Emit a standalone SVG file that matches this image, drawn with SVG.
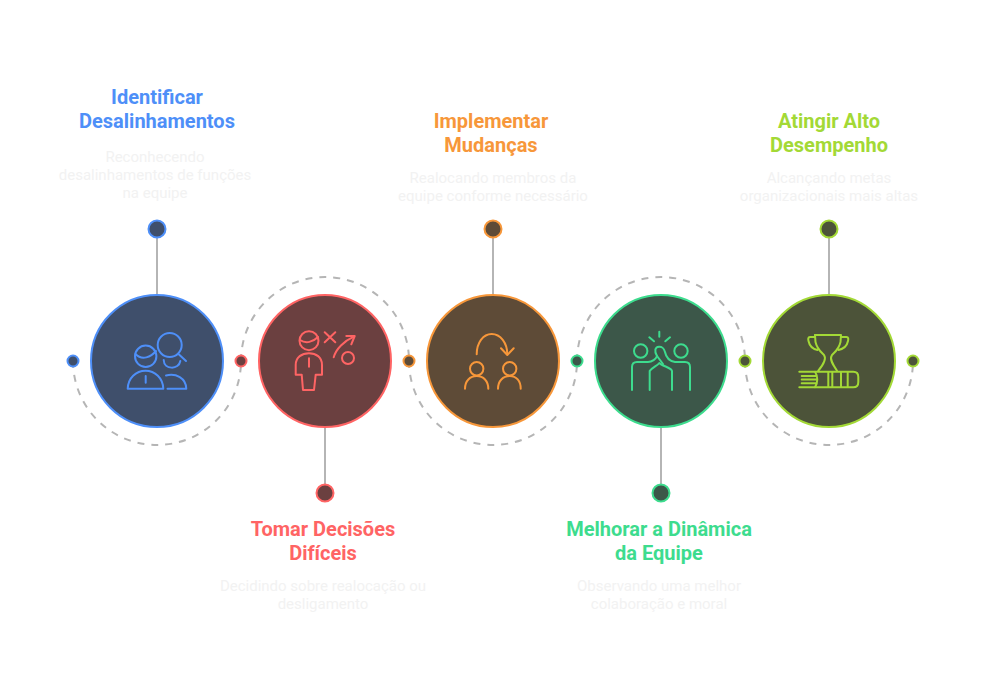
<svg xmlns="http://www.w3.org/2000/svg" width="986" height="674" viewBox="0 0 986 674">
<style>
text{font-family:Roboto,"Liberation Sans",sans-serif;text-anchor:middle}
.t{font-size:20px;font-weight:700}
.d{font-size:15px;fill:#f2f2f2}
.arc{fill:none;stroke:#b5b5b5;stroke-width:2;stroke-dasharray:7 7}
.ln{stroke:#b5b5b5;stroke-width:2;fill:none}
.i{fill:none;stroke-width:2;stroke-linecap:round;stroke-linejoin:round}
.n,.o{stroke-width:2}
.blue .n,.blue .o{fill:#3f4f6b;stroke:#4e8ff8}.blue .i{stroke:#4e8ff8}.blue .t{fill:#4e8ff8}
.red .n,.red .o{fill:#6b4040;stroke:#ff6464}.red .i{stroke:#ff6464}.red .t{fill:#ff6464}
.org .n,.org .o{fill:#5e4b37;stroke:#f7973a}.org .i{stroke:#f7973a}.org .t{fill:#f7973a}
.grn .n,.grn .o{fill:#3c5749;stroke:#3ddc8e}.grn .i{stroke:#3ddc8e}.grn .t{fill:#3ddc8e}
.lim .n,.lim .o{fill:#4c5339;stroke:#a3d936}.lim .i{stroke:#a3d936}.lim .t{fill:#a3d936}
</style>
<g id="connectors">
<path class="arc" d="M73 361A84 84 0 0 0 241 361"/>
<path class="arc" d="M241 361A84 84 0 0 1 409 361"/>
<path class="arc" d="M409 361A84 84 0 0 0 577 361"/>
<path class="arc" d="M577 361A84 84 0 0 1 745 361"/>
<path class="arc" d="M745 361A84 84 0 0 0 913 361"/>
<path class="ln" d="M157 229V295M325 427V493M493 229V295M661 427V493M829 229V295"/>
</g>
<g id="node-1" class="blue">
<circle class="n" cx="157" cy="361" r="66"/>
<circle class="o" cx="73" cy="361" r="5.500"/>
<circle class="o" cx="157" cy="229" r="8.500"/>
<g class="i">
<circle cx="145.700" cy="356.300" r="10.700"/>
<path d="M135.500 354C142 361 151 357 156 351"/>
<path d="M127.700 388.700H163.300C163 378 155 370.700 145.500 370.700S128 378 127.700 388.700Z"/>
<path d="M145.700 376V382.700"/>
<circle cx="169.700" cy="345" r="12"/>
<path d="M179 354.500L186 361"/>
<path d="M163.700 360C164 370 179 370 180.300 361"/>
<path d="M166 375.500C176 373 186 378 186.300 388.700H167.500"/>
</g>
<text class="t" x="157" y="104">Identificar</text>
<text class="t" x="157" y="128">Desalinhamentos</text>
<text class="d" x="155" y="162">Reconhecendo</text>
<text class="d" x="155" y="180">desalinhamentos de funções</text>
<text class="d" x="155" y="198">na equipe</text>
</g>
<g id="node-2" class="red">
<circle class="n" cx="325" cy="361" r="66"/>
<circle class="o" cx="241" cy="361" r="5.500"/>
<circle class="o" cx="325" cy="493" r="8.500"/>
<g class="i">
<circle cx="309" cy="340.700" r="9.500"/>
<path d="M300 340C306 344 313 342 318 337"/>
<path d="M295.700 374.700V365C295.700 357 302 353.300 309 353.300S322 357 322 365V374.700H315.700L314 390H303L301.700 374.700Z"/>
<path d="M309 358.300V366.700"/>
<path d="M324.700 332.300L335.300 342.300M335.300 332.300L324.700 342.300"/>
<path d="M333.700 357.300C336 349 344 341 354 336.700"/>
<path d="M346.300 336H354.700L351.300 344.300"/>
<circle cx="348" cy="358" r="6"/>
</g>
<text class="t" x="323" y="536">Tomar Decisões</text>
<text class="t" x="323" y="560">Difíceis</text>
<text class="d" x="323" y="591">Decidindo sobre realocação ou</text>
<text class="d" x="323" y="609">desligamento</text>
</g>
<g id="node-3" class="org">
<circle class="n" cx="493" cy="361" r="66"/>
<circle class="o" cx="409" cy="361" r="5.500"/>
<circle class="o" cx="493" cy="229" r="8.500"/>
<g class="i">
<path d="M476.700 354.300C476.700 343 483 334 491.700 334S507.300 343 507.300 354.300"/>
<path d="M501 348.300L507.300 355L513.700 348.300"/>
<circle cx="476.700" cy="368.700" r="6.700"/>
<circle cx="509.700" cy="368.700" r="6.700"/>
<path d="M465 388.700C465 381 470 376 476.700 376S488.300 381 488.300 388.700"/>
<path d="M498 388.700C498 381 503 376 509.700 376S520.700 381 520.700 388.700"/>
</g>
<text class="t" x="491" y="128">Implementar</text>
<text class="t" x="491" y="152">Mudanças</text>
<text class="d" x="493" y="183">Realocando membros da</text>
<text class="d" x="493" y="201">equipe conforme necessário</text>
</g>
<g id="node-4" class="grn">
<circle class="n" cx="661" cy="361" r="66"/>
<circle class="o" cx="577" cy="361" r="5.500"/>
<circle class="o" cx="661" cy="493" r="8.500"/>
<g class="i">
<circle cx="640.700" cy="351" r="6.700"/>
<circle cx="681" cy="351" r="6.700"/>
<path d="M659.300 331.700V336.700M649.300 337.300L654 341.300M670 337.300L665.300 341.300"/>
<path d="M632 390V367C632 364 634 362 637 362H648C652 362 656 359 657 356C654 351 655 347 659 346.700C663 346.500 664 349 665 352C666 357 669 361 675 362H685C688 362 690 364 690 367V390"/>
<path d="M649.700 390V371C653 367 657 366 659.300 363C662 366 672 368 672 371V390"/>
<path d="M657 356L663 364"/>
</g>
<text class="t" x="659" y="536">Melhorar a Dinâmica</text>
<text class="t" x="659" y="560">da Equipe</text>
<text class="d" x="659" y="591">Observando uma melhor</text>
<text class="d" x="659" y="609">colaboração e moral</text>
</g>
<g id="node-5" class="lim">
<circle class="n" cx="829" cy="361" r="66"/>
<circle class="o" cx="745" cy="361" r="5.500"/>
<circle class="o" cx="913" cy="361" r="5.500"/>
<circle class="o" cx="829" cy="229" r="8.500"/>
<g class="i">
<path d="M815 335H841L840.500 342C839 349 835 352 832 355C829 359 833 365 837 370.700"/>
<path d="M815 335L815.500 342C817 349 821 352 824 355C827 359 823 365 818.300 370.700"/>
<path d="M815 337H810C808 337 808 339 808.500 341C809.500 346 813 349 817.500 350"/>
<path d="M841 337H846.500C848.500 337 848.500 339 848 341C847 346 843 349 838.500 350"/>
<path d="M799.300 371.700H853.300C856.500 371.700 858.300 374 858.300 377V382C858.300 385 856.500 387.300 853.300 387.300H799.300"/>
<path d="M815 371.700C818 376 818 383 815 387.300"/>
<path d="M801.700 376H816M801.700 379.500H817M801.700 383.300H816"/>
<path d="M828.300 372V387M832.300 372V387M841 372V387M847.700 372V387"/>
</g>
<text class="t" x="829" y="128">Atingir Alto</text>
<text class="t" x="829" y="152">Desempenho</text>
<text class="d" x="829" y="183">Alcançando metas</text>
<text class="d" x="829" y="201">organizacionais mais altas</text>
</g>
</svg>
